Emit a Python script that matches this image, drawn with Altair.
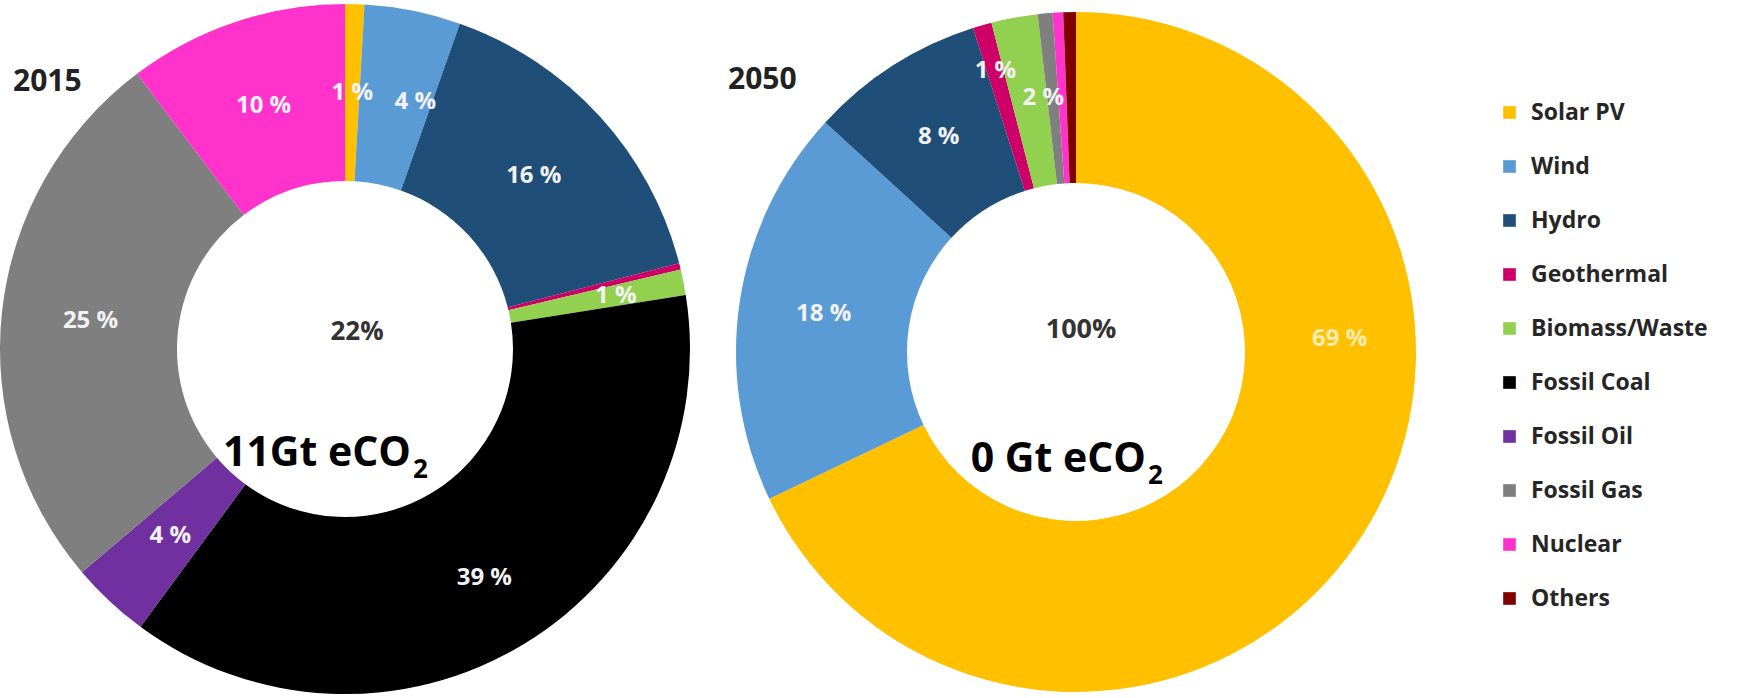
import altair as alt
import pandas as pd

# ---- data ----
sources = ["Solar PV", "Wind", "Hydro", "Geothermal", "Biomass/Waste",
           "Fossil Coal", "Fossil Oil", "Fossil Gas", "Nuclear", "Others"]
colors = ["#FFC000", "#5B9BD5", "#1F4E79", "#CC0066", "#92D050",
          "#000000", "#7030A0", "#7F7F7F", "#FF33CC", "#800000"]
share_2015 = [0.9, 4.5, 15.6, 0.3, 1.2, 37.6, 3.7, 25.9, 10.3, 0.0]
share_2050 = [67.9, 18.9, 8.3, 0.9, 2.2, 0.0, 0.0, 0.7, 0.5, 0.6]
labels_2015 = ["1 %", "4 %", "16 %", "", "1 %", "39 %", "4 %", "25 %", "10 %", ""]
labels_2050 = ["69 %", "18 %", "8 %", "1 %", "2 %", "", "", "", "", ""]

df15 = pd.DataFrame({"source": sources, "share": share_2015,
                     "label": labels_2015, "idx": list(range(len(sources)))})
df50 = pd.DataFrame({"source": sources, "share": share_2050,
                     "label": labels_2050, "idx": list(range(len(sources)))})
one = pd.DataFrame({"a": [0]})

FONT = "Open Sans"

color_enc = alt.Color(
    "source:N",
    scale=alt.Scale(domain=sources, range=colors),
    legend=alt.Legend(
        title=None, orient="none", legendX=1498, legendY=101, padding=0,
        symbolType="square", symbolSize=160, symbolStrokeWidth=0,
        labelFont=FONT, labelFontSize=23, labelFontWeight="bold",
        labelColor="#262626", labelOffset=10, rowPadding=30,
        labelLimit=400,
    ),
)
theta_enc = alt.Theta("share:Q", stack=True, scale=alt.Scale(domain=[0, 100]))
order_enc = alt.Order("idx:Q")

C1 = (345, 349)
C2 = (1076, 352)

arc15 = alt.Chart(df15).mark_arc(radius=345, radius2=168).encode(
    x=alt.value(C1[0]), y=alt.value(C1[1]),
    theta=theta_enc, color=color_enc, order=order_enc,
)
arc50 = alt.Chart(df50).mark_arc(radius=340, radius2=169).encode(
    x=alt.value(C2[0]), y=alt.value(C2[1]),
    theta=theta_enc, color=color_enc, order=order_enc,
)


def labels(df, center, which, radius, offset=0.0, color="#F2F2F2"):
    """Slice labels placed at the middle of each stacked slice (polar)."""
    cond = " || ".join(f"datum.source == '{s}'" for s in which)
    mark_kw = dict(font=FONT, fontSize=24, fontWeight="bold", color=color,
                   baseline="middle", align="center", radius=radius)
    if offset:
        mark_kw["thetaOffset"] = offset
    return alt.Chart(df).mark_text(**mark_kw).encode(
        x=alt.value(center[0]), y=alt.value(center[1]),
        theta=theta_enc, order=order_enc,
        text=alt.condition(cond, "label:N", alt.value("")),
    )


label_layers = [
    labels(df15, C1, ["Solar PV", "Hydro", "Fossil Oil", "Fossil Gas", "Nuclear"], 256),
    labels(df15, C1, ["Wind"], 257, 0.079),
    labels(df15, C1, ["Biomass/Waste"], 276),
    labels(df15, C1, ["Fossil Coal"], 268),
    labels(df50, C2, ["Wind", "Hydro"], 255),
    labels(df50, C2, ["Geothermal"], 292),
    labels(df50, C2, ["Biomass/Waste"], 256, 0.054),
    labels(df50, C2, ["Solar PV"], 264, -0.61, color="#FFECB3"),
]


def note(text, x, y, size, color="#000000", align="center", baseline="middle"):
    return alt.Chart(one).mark_text(
        text=text, font=FONT, fontSize=size, fontWeight="bold", color=color,
        align=align, baseline=baseline,
    ).encode(x=alt.value(x), y=alt.value(y))


notes = [
    note("2015", 13, 82, 30, "#222222", align="left"),
    note("2050", 728, 80, 30, "#222222", align="left"),
    note("22%", 357, 332, 26, "#333333"),
    note("100%", 1081, 330, 27, "#333333"),
    note("11Gt eCO", 411, 466, 41, align="right", baseline="alphabetic"),
    note("2", 413, 478, 26, align="left", baseline="alphabetic"),
    note("0 Gt eCO", 1146, 472, 41, align="right", baseline="alphabetic"),
    note("2", 1148, 484, 26, align="left", baseline="alphabetic"),
]

chart = alt.layer(arc15, arc50, *label_layers, *notes).properties(
    width=1737, height=698, padding=0, autosize="none", background="white"
).configure_view(stroke=None)

chart.save("out.html", embed_options={"renderer": "svg", "actions": False})
